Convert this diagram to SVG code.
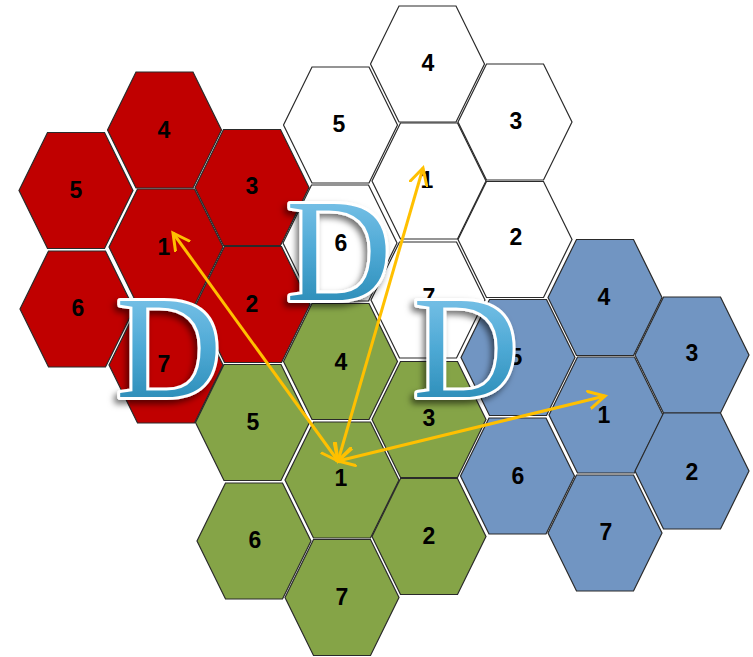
<svg xmlns="http://www.w3.org/2000/svg" xmlns:xlink="http://www.w3.org/1999/xlink" width="753" height="657" viewBox="0 0 753 657">
  <defs>
    <polygon id="hex" points="-57,0 -28.5,-58 28.5,-58 57,0 28.5,58 -28.5,58"/>
    <linearGradient id="dgrad" x1="0" y1="0" x2="0" y2="1">
      <stop offset="0" stop-color="#8DCDF0"/>
      <stop offset="0.5" stop-color="#4EA9D5"/>
      <stop offset="1" stop-color="#1C80AA"/>
    </linearGradient>
    <filter id="shadow" x="-30%" y="-30%" width="160%" height="160%">
      <feDropShadow dx="-3" dy="4" stdDeviation="3" flood-color="#000" flood-opacity="0.55"/>
    </filter>
    <marker id="arr" viewBox="0 0 20 20" refX="17" refY="10" markerWidth="20" markerHeight="20" markerUnits="userSpaceOnUse" orient="auto-start-reverse">
      <path d="M1,1.5 L17,10 L1,18.5" fill="none" stroke="#FFC000" stroke-width="3" stroke-linecap="round" stroke-linejoin="miter"/>
    </marker>
  </defs>
  <style>
    .hex use { stroke: #2a2a2a; stroke-width: 1.2; }
    .red use { fill: #C00000; }
    .white use { fill: #FFFFFF; }
    .green use { fill: #85A447; }
    .blue use { fill: #7195C2; }
    .hex text { font-family: "Liberation Sans", Arial, sans-serif; font-weight: bold; font-size: 23px; fill: #000; text-anchor: middle; }
    .dl { font-family: "Liberation Serif", "Times New Roman", serif; font-size: 146px; fill: url(#dgrad); stroke: #FFFFFF; stroke-width: 6; paint-order: stroke; stroke-linejoin: round; filter: url(#shadow); }
    .conn line { stroke: #FFC000; stroke-width: 3; marker-start: url(#arr); marker-end: url(#arr); }
  </style>

  <!-- red cluster -->
  <g id="red-4" class="hex red"><use href="#hex" x="164.5" y="130"/><text x="164" y="138">4</text></g>
  <g id="red-5" class="hex red"><use href="#hex" x="76" y="190.5"/><text x="76" y="198">5</text></g>
  <g id="red-3" class="hex red"><use href="#hex" x="252" y="187.5"/><text x="252" y="194">3</text></g>
  <g id="red-1" class="hex red"><use href="#hex" x="166" y="247"/><text x="164" y="255">1</text></g>
  <g id="red-6" class="hex red"><use href="#hex" x="77" y="309"/><text x="78" y="316">6</text></g>
  <g id="red-2" class="hex red"><use href="#hex" x="253" y="304.5"/><text x="252" y="312">2</text></g>
  <g id="red-7" class="hex red"><use href="#hex" x="166" y="365"/><text x="164" y="372">7</text></g>

  <!-- white cluster -->
  <g id="white-4" class="hex white"><use href="#hex" x="427.5" y="64"/><text x="428" y="71">4</text></g>
  <g id="white-5" class="hex white"><use href="#hex" x="340.5" y="125"/><text x="339" y="132">5</text></g>
  <g id="white-3" class="hex white"><use href="#hex" x="515" y="122"/><text x="516" y="129">3</text></g>
  <g id="white-1" class="hex white"><use href="#hex" x="429" y="181"/><text x="427" y="188">1</text></g>
  <g id="white-6" class="hex white"><use href="#hex" x="340" y="243"/><text x="341" y="251">6</text></g>
  <g id="white-2" class="hex white"><use href="#hex" x="515" y="239.5"/><text x="516" y="245">2</text></g>
  <g id="white-7" class="hex white"><use href="#hex" x="428" y="300"/><text x="429" y="305">7</text></g>

  <!-- green cluster -->
  <g id="green-4" class="hex green"><use href="#hex" x="340.5" y="361.5"/><text x="341" y="370">4</text></g>
  <g id="green-5" class="hex green"><use href="#hex" x="252.5" y="422.5"/><text x="253" y="430">5</text></g>
  <g id="green-3" class="hex green"><use href="#hex" x="429" y="419.5"/><text x="429" y="426">3</text></g>
  <g id="green-1" class="hex green"><use href="#hex" x="342" y="480"/><text x="341" y="486">1</text></g>
  <g id="green-6" class="hex green"><use href="#hex" x="254" y="541"/><text x="255" y="548">6</text></g>
  <g id="green-2" class="hex green"><use href="#hex" x="429" y="536.5"/><text x="429" y="544">2</text></g>
  <g id="green-7" class="hex green"><use href="#hex" x="342" y="597.5"/><text x="342" y="605">7</text></g>

  <!-- blue cluster -->
  <g id="blue-4" class="hex blue"><use href="#hex" x="605" y="297.5"/><text x="604" y="305">4</text></g>
  <g id="blue-3" class="hex blue"><use href="#hex" x="692" y="355"/><text x="692" y="361">3</text></g>
  <g id="blue-5" class="hex blue"><use href="#hex" x="518" y="357.5"/><text x="516" y="365">5</text></g>
  <g id="blue-1" class="hex blue"><use href="#hex" x="606" y="415"/><text x="604" y="423">1</text></g>
  <g id="blue-6" class="hex blue"><use href="#hex" x="517.5" y="476"/><text x="518" y="484">6</text></g>
  <g id="blue-2" class="hex blue"><use href="#hex" x="692" y="471"/><text x="692" y="480">2</text></g>
  <g id="blue-7" class="hex blue"><use href="#hex" x="605" y="533"/><text x="606" y="540">7</text></g>

  <!-- reuse distance labels -->
  <g id="d-labels">
    <text class="dl" x="116" y="397">D</text>
    <text class="dl" x="286" y="300">D</text>
    <text class="dl" x="413" y="397">D</text>
  </g>

  <!-- connectors -->
  <g id="connectors" class="conn">
    <line x1="173" y1="233" x2="338" y2="461"/>
    <line x1="423" y1="168" x2="338" y2="461"/>
    <line x1="605" y1="396" x2="338" y2="461"/>
  </g>
</svg>
